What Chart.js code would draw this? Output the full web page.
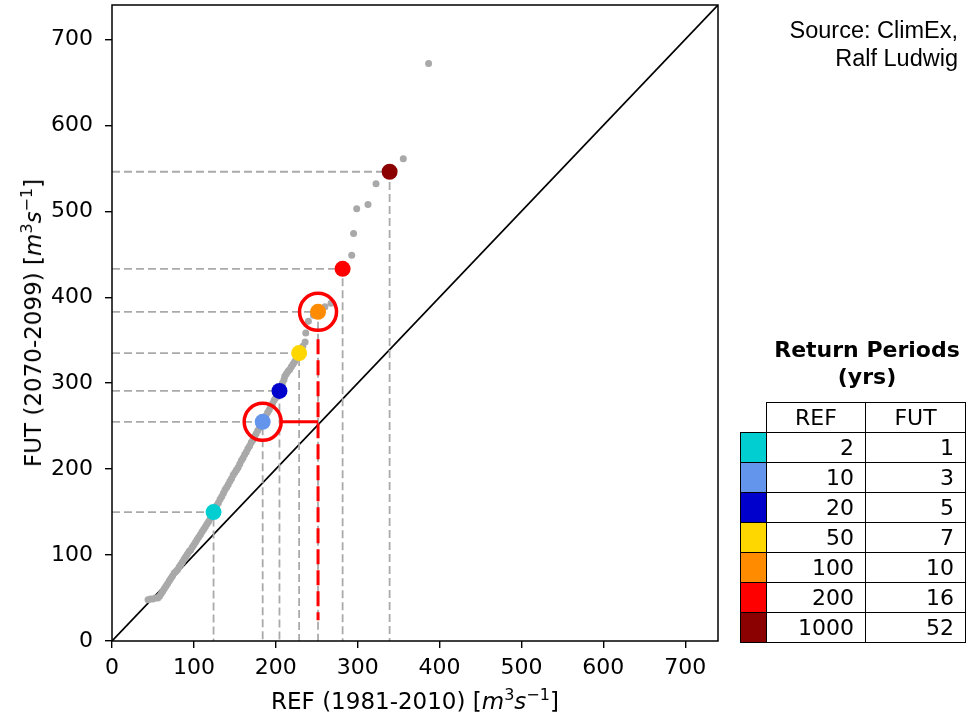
<!DOCTYPE html>
<html>
<head>
<meta charset="utf-8">
<script src="https://cdn.jsdelivr.net/npm/chart.js@4"></script>
<style>
  body { margin: 0; background: #fff; }
  #wrap { position: relative; width: 976px; height: 715px; font-family: "DejaVu Sans", sans-serif; color: #000; }
  #chart { position: absolute; left: 0; top: 0; }
  .axt { position: absolute; font-size: 23px; white-space: nowrap; line-height: 26px; }
  .axt sup { font-size: 16px; line-height: 0; vertical-align: 9px; }
  #xt { left: 415px; top: 701px; transform: translate(-50%, -50%); }
  #yt { left: 33px; top: 323px; transform: translate(-50%, -50%) rotate(-90deg); }
  #src { position: absolute; right: 18px; top: 16px; text-align: right; font-family: "Liberation Sans", Arial, sans-serif; font-size: 23.5px; line-height: 28px; }
  #rptitle { position: absolute; left: 767px; width: 200px; top: 336px; text-align: center; font-weight: bold; font-size: 22px; line-height: 27px; }
  #rp { position: absolute; left: 740px; top: 402px; border-collapse: collapse; font-size: 22px; }
  #rp td { height: 29px; line-height: 29px; padding: 0 11px 0 0; border: 1.5px solid #000; text-align: right; }
  #rp td.sw { width: 25px; padding: 0; }
  #rp td.blank { border: none; }
  #rp td.hd { text-align: center; padding: 0; }
</style>
</head>
<body>
<div id="wrap">
  <canvas id="chart" width="976" height="715"></canvas>
  <div class="axt" id="xt">REF (1981-2010) [<i>m</i><sup>3</sup><i>s</i><sup>−1</sup>]</div>
  <div class="axt" id="yt">FUT (2070-2099) [<i>m</i><sup>3</sup><i>s</i><sup>−1</sup>]</div>
  <div id="src">Source: ClimEx,<br>Ralf Ludwig</div>
  <div id="rptitle">Return Periods<br>(yrs)</div>
  <table id="rp"></table>
</div>
<script>
// axis ticks
const tickValues = [0, 100, 200, 300, 400, 500, 600, 700];
const axisMax = 740;

// return period points (REF discharge, FUT discharge)
const rpRefYears = [2, 10, 20, 50, 100, 200, 1000];
const rpFutYears = [1, 3, 5, 7, 10, 16, 52];
const rpRefQ = [124, 184, 204.5, 228.5, 251.6, 281.6, 339];
const rpFutQ = [150, 255, 291, 335, 383, 433, 546];
const rpColors = ['#00CED1', '#6495ED', '#0000CD', '#FFD700', '#FF8C00', '#FF0000', '#8B0000'];

// sorted quantile pairs (grey dots)
const qRef = [44, 47, 50, 53, 56, 58, 60, 62, 64, 66, 68, 70, 72, 74, 76, 78, 80, 82, 84, 86, 88, 90, 92, 94, 96, 98,
  100, 102, 104, 106, 108, 110, 112, 114, 116, 118, 120, 122, 124, 126, 128, 130, 132, 134, 136, 138, 140, 142, 144,
  146, 148, 150, 152, 154, 156, 158, 160, 162, 164, 166, 168, 170, 172, 174, 176, 178, 180, 182, 184, 186, 188, 190,
  192, 194, 196, 198, 200, 202, 204, 206, 208, 210, 211, 213, 215, 217, 219, 221, 223, 225, 227, 229, 231, 233, 235.8,
  236.6, 239.8, 246, 252, 260, 267.5, 292.7, 295, 298.8, 312.6, 322.4, 355.7, 386.6];
const qFut = [48, 49, 49, 50, 50, 52, 55, 58, 61, 64, 67, 70, 73, 76, 79, 81, 83, 86, 89, 92, 95, 98, 101, 104, 106, 109,
  112, 115, 118, 121, 124, 127, 130, 133, 136, 139, 143, 146, 150, 154, 158, 161, 165, 168, 172, 176, 179, 182, 186,
  189, 193, 196, 199, 202, 206, 210, 213, 217, 220, 224, 227, 231, 234, 238, 241, 245, 248, 252, 255, 259, 262, 266,
  269, 273, 276, 280, 283, 287, 291, 295, 300, 304, 308, 311, 314, 316, 319, 322, 325, 329, 332, 335, 339, 343, 348,
  358.4, 372, 379, 383, 389, 393, 448.8, 474, 503, 508, 532, 561, 672];

// red highlight marks
const circleRef = [184, 251.6];
const circleFut = [255, 383];
const redHorizRef = [205, 251.6];
const redHorizFut = [255, 255];
const redVertRef = [251.6, 251.6];
const redVertFut = [351, 24];

const pts = (xs, ys) => xs.map((x, i) => ({x: x, y: ys[i]}));

const datasets = [];
datasets.push({
  data: pts(circleRef, circleFut), pointRadius: 18.5, pointBorderWidth: 3.5,
  pointBorderColor: '#FF0000', pointBackgroundColor: 'rgba(0,0,0,0)', order: 0
});
datasets.push({
  data: pts(rpRefQ, rpFutQ), pointRadius: 8, pointBorderWidth: 0,
  pointBackgroundColor: rpColors, pointBorderColor: rpColors, order: 1
});
datasets.push({
  data: pts(redHorizRef, redHorizFut), showLine: true, borderColor: '#FF0000', borderWidth: 3,
  pointRadius: 0, order: 2
});
datasets.push({
  data: pts(redVertRef, redVertFut), showLine: true, borderColor: '#FF0000', borderWidth: 3,
  borderDash: [15, 6], pointRadius: 0, order: 2
});
datasets.push({
  data: pts(qRef, qFut), pointRadius: 3.5, pointBorderWidth: 0,
  pointBackgroundColor: '#A9A9A9', pointBorderColor: '#A9A9A9', order: 3
});
rpRefQ.forEach((r, i) => {
  datasets.push({
    data: [{x: 0, y: rpFutQ[i]}, {x: r, y: rpFutQ[i]}, {x: r, y: 0}],
    showLine: true, borderColor: '#AAAAAA', borderWidth: 1.8, borderDash: [8, 4],
    pointRadius: 0, order: 4
  });
});
datasets.push({
  data: [{x: 0, y: 0}, {x: axisMax, y: axisMax}], showLine: true,
  borderColor: '#000', borderWidth: 1.7, pointRadius: 0, order: 5
});

const frame = {
  id: 'frame',
  afterDatasetsDraw(chart) {
    const a = chart.chartArea, c = chart.ctx;
    c.save();
    c.strokeStyle = '#000';
    c.lineWidth = 1.5;
    c.strokeRect(a.left, a.top, a.right - a.left, a.bottom - a.top);
    c.restore();
  }
};

const noOverflow = s => { s.paddingTop = 0; s.paddingBottom = 0; s.paddingLeft = 0; s.paddingRight = 0; };

const axisCommon = {
  type: 'linear', min: 0, max: axisMax,
  afterBuildTicks: s => { s.ticks = tickValues.map(v => ({value: v})); },
  grid: { drawOnChartArea: false, drawTicks: true, tickLength: 7, color: '#000', lineWidth: 1.4 },
  border: { display: false },
  title: { display: false }
};

Chart.defaults.font.family = '"DejaVu Sans", sans-serif';
Chart.defaults.font.size = 22;
Chart.defaults.color = '#000';

new Chart(document.getElementById('chart'), {
  type: 'scatter',
  data: { datasets: datasets },
  options: {
    responsive: false, animation: false, events: [],
    layout: { autoPadding: false, padding: { left: 0, top: 5, right: 258, bottom: 0 } },
    plugins: { legend: { display: false }, tooltip: { enabled: false } },
    scales: {
      x: Object.assign({}, axisCommon, {
        ticks: { padding: 7, maxRotation: 0 },
        afterFit: s => { s.height = 74; noOverflow(s); }
      }),
      y: Object.assign({}, axisCommon, {
        ticks: { padding: 12 },
        afterFit: s => { s.width = 112; noOverflow(s); }
      })
    }
  },
  plugins: [frame]
});

// return period table
const tbl = document.getElementById('rp');
let html = '<tr><td class="blank sw"></td><td class="hd" style="width:98px">REF</td><td class="hd" style="width:99px">FUT</td></tr>';
rpRefYears.forEach((r, i) => {
  html += '<tr><td class="sw" style="background:' + rpColors[i] + '"></td><td>' + r + '</td><td>' + rpFutYears[i] + '</td></tr>';
});
tbl.innerHTML = html;
</script>
</body>
</html>
